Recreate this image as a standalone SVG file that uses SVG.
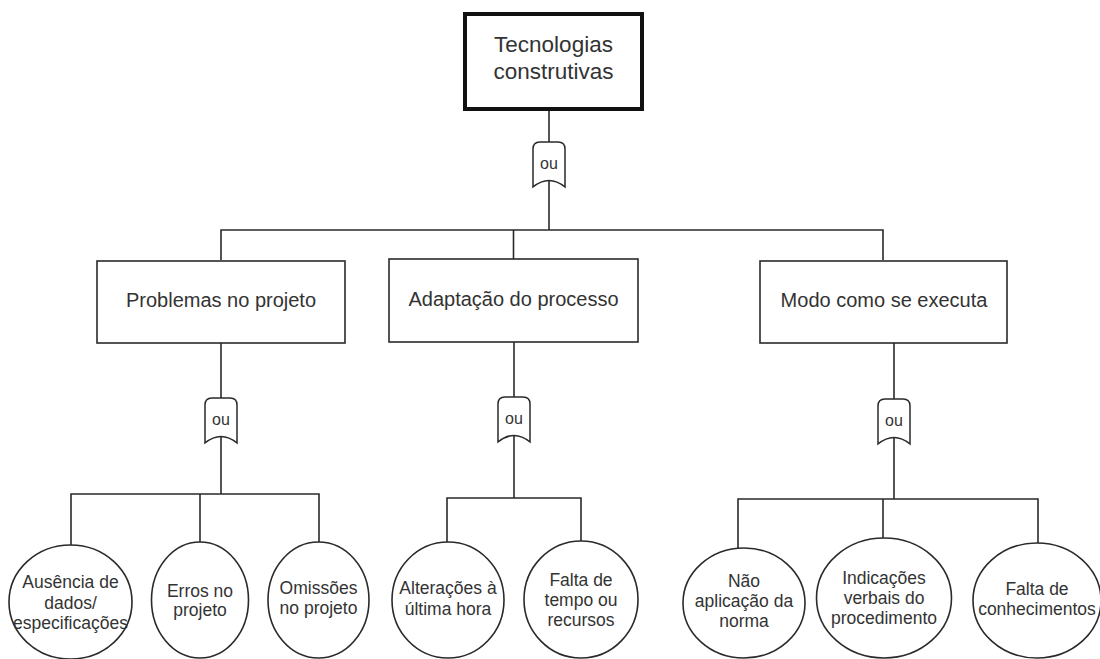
<svg xmlns="http://www.w3.org/2000/svg" width="1100" height="659" viewBox="0 0 1100 659">
  <style>
    .box { fill: #ffffff; stroke: #2a2a2a; stroke-width: 1.6; }
    .root { fill: #ffffff; stroke: #111111; stroke-width: 4; }
    .leaf { fill: #ffffff; stroke: #2a2a2a; stroke-width: 1.6; }
    .gate { fill: #ffffff; stroke: #2a2a2a; stroke-width: 1.5; }
    .wire { fill: none; stroke: #2a2a2a; stroke-width: 1.6; }
    text { font-family: "Liberation Sans", Arial, sans-serif; fill: #333333; text-anchor: middle; }
    .t-root { font-size: 22.5px; }
    .t-box { font-size: 20px; }
    .t-leaf { font-size: 17.5px; }
    .t-gate { font-size: 16px; }
  </style>
  <defs>
    <!-- OR gate outline, origin at top centre -->
    <path id="or-gate" d="M -16 45 L -16 7 Q -16 0 -9 0 L 9 0 Q 16 0 16 7 L 16 45 Q 0 32 -16 45 Z"/>
  </defs>

  <rect width="1100" height="659" fill="#ffffff"/>

  <g id="connectors" class="wire">
    <!-- root to first gate and first-level bar -->
    <path d="M 549 111 V 142"/>
    <path d="M 549 180 V 230"/>
    <path d="M 221 260 V 230 H 883 V 260"/>
    <path d="M 513.5 230 V 259"/>
    <!-- Problemas no projeto branch -->
    <path d="M 221 343 V 398"/>
    <path d="M 221 436 V 494"/>
    <path d="M 71 545 V 494 H 319 V 542"/>
    <path d="M 200 494 V 542"/>
    <!-- Adaptação do processo branch -->
    <path d="M 514 342 V 397"/>
    <path d="M 514 435 V 498"/>
    <path d="M 447 542 V 498 H 581 V 541"/>
    <!-- Modo como se executa branch -->
    <path d="M 894 343 V 399"/>
    <path d="M 894 437 V 499"/>
    <path d="M 738 548 V 499 H 1038 V 543"/>
    <path d="M 883 499 V 538"/>
  </g>

  <g id="root">
    <rect class="root" x="465" y="14" width="177" height="95"/>
    <text class="t-root" x="553.5" y="52">Tecnologias</text>
    <text class="t-root" x="553.5" y="79">construtivas</text>
  </g>

  <g id="gate-root">
    <use href="#or-gate" class="gate" transform="translate(549 142)"/>
    <text class="t-gate" x="549" y="169">ou</text>
  </g>

  <g id="problemas">
    <rect class="box" x="97" y="261" width="248" height="82"/>
    <text class="t-box" x="221" y="307">Problemas no projeto</text>
  </g>
  <g id="adaptacao">
    <rect class="box" x="389" y="259" width="249" height="83"/>
    <text class="t-box" x="513.5" y="306">Adaptação do processo</text>
  </g>
  <g id="modo">
    <rect class="box" x="760" y="261" width="247" height="82"/>
    <text class="t-box" x="884" y="307">Modo como se executa</text>
  </g>

  <g id="gate-problemas">
    <use href="#or-gate" class="gate" transform="translate(221 398)"/>
    <text class="t-gate" x="221" y="425">ou</text>
  </g>
  <g id="gate-adaptacao">
    <use href="#or-gate" class="gate" transform="translate(514 397)"/>
    <text class="t-gate" x="514" y="424">ou</text>
  </g>
  <g id="gate-modo">
    <use href="#or-gate" class="gate" transform="translate(894 399)"/>
    <text class="t-gate" x="894" y="426">ou</text>
  </g>

  <g id="ausencia">
    <ellipse class="leaf" cx="70.5" cy="602" rx="61.5" ry="57"/>
    <text class="t-leaf" x="70.5" y="588">Ausência de</text>
    <text class="t-leaf" x="70.5" y="609">dados/</text>
    <text class="t-leaf" x="70.5" y="629">especificações</text>
  </g>
  <g id="erros">
    <ellipse class="leaf" cx="200" cy="600" rx="48.5" ry="58"/>
    <text class="t-leaf" x="200" y="597">Erros no</text>
    <text class="t-leaf" x="200" y="616">projeto</text>
  </g>
  <g id="omissoes">
    <ellipse class="leaf" cx="318.5" cy="600" rx="50.5" ry="58"/>
    <text class="t-leaf" x="318.5" y="594">Omissões</text>
    <text class="t-leaf" x="318.5" y="614">no projeto</text>
  </g>
  <g id="alteracoes">
    <ellipse class="leaf" cx="448" cy="600" rx="56" ry="58"/>
    <text class="t-leaf" x="448" y="594">Alterações à</text>
    <text class="t-leaf" x="448" y="615">última hora</text>
  </g>
  <g id="falta-tempo">
    <ellipse class="leaf" cx="581" cy="599.5" rx="57" ry="58.5"/>
    <text class="t-leaf" x="581" y="586">Falta de</text>
    <text class="t-leaf" x="581" y="606">tempo ou</text>
    <text class="t-leaf" x="581" y="626">recursos</text>
  </g>
  <g id="nao-aplicacao">
    <ellipse class="leaf" cx="744" cy="603" rx="61" ry="55"/>
    <text class="t-leaf" x="744" y="587">Não</text>
    <text class="t-leaf" x="744" y="607">aplicação da</text>
    <text class="t-leaf" x="744" y="627">norma</text>
  </g>
  <g id="indicacoes">
    <ellipse class="leaf" cx="884" cy="598" rx="67.5" ry="60"/>
    <text class="t-leaf" x="884" y="584">Indicações</text>
    <text class="t-leaf" x="884" y="604">verbais do</text>
    <text class="t-leaf" x="884" y="624">procedimento</text>
  </g>
  <g id="falta-conhecimentos">
    <ellipse class="leaf" cx="1037" cy="600.5" rx="64" ry="57.5"/>
    <text class="t-leaf" x="1037" y="595">Falta de</text>
    <text class="t-leaf" x="1037" y="615">conhecimentos</text>
  </g>
</svg>
